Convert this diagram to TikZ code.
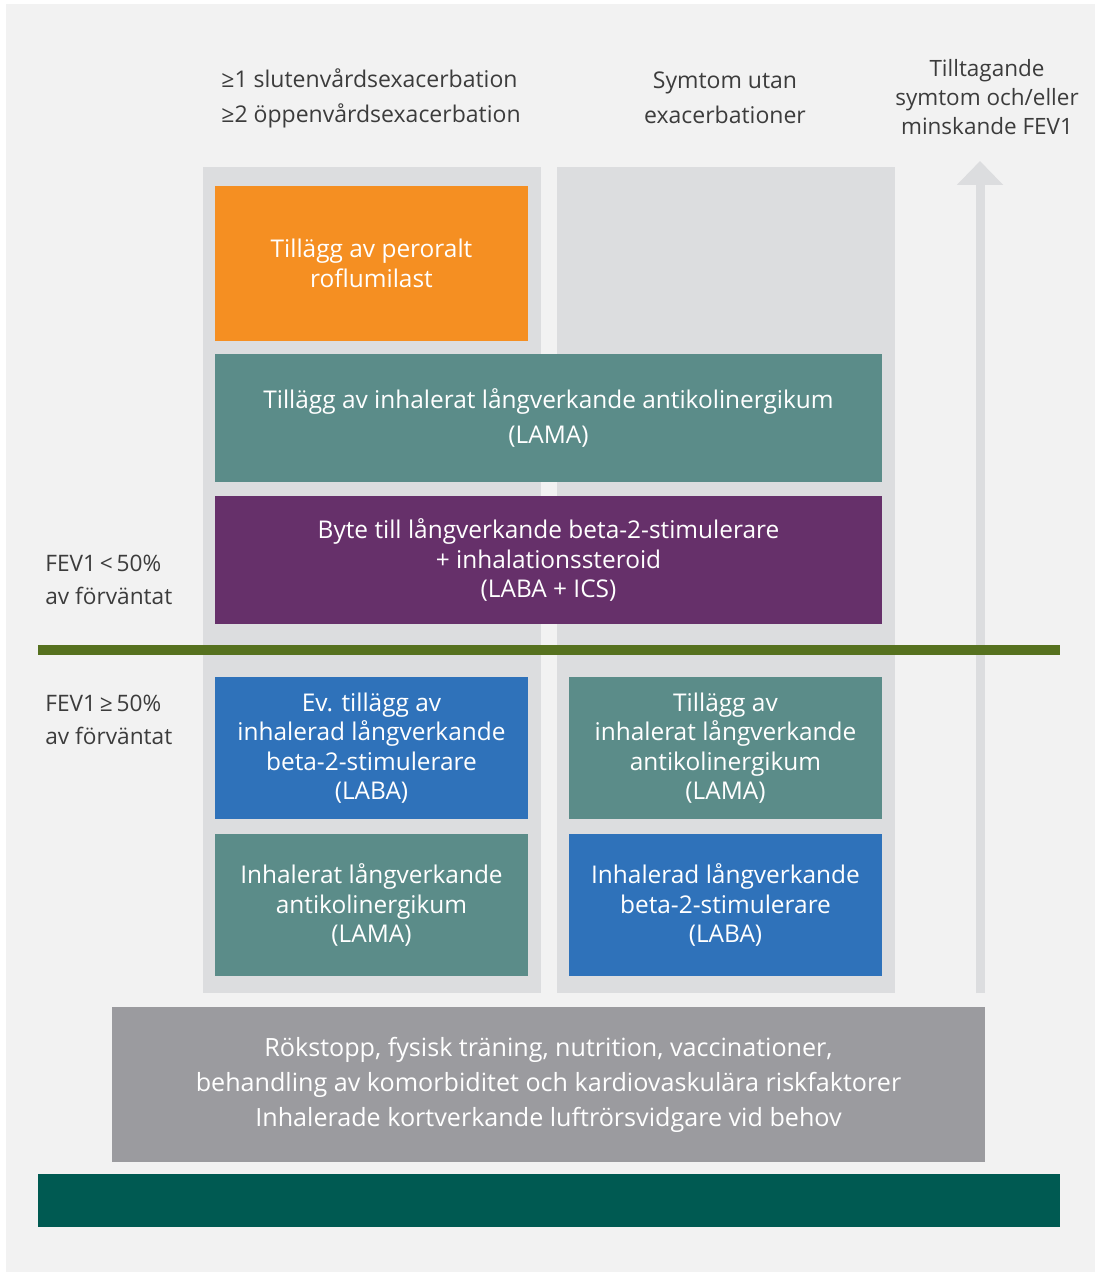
\documentclass[tikz,border=0pt]{standalone}
\usepackage{fontspec}
\setmainfont{Open Sans}
\usetikzlibrary{arrows.meta}
\definecolor{bggray}{HTML}{F2F2F2}
\definecolor{panelgray}{HTML}{DCDDDF}
\definecolor{roforange}{HTML}{F58F22}
\definecolor{lamateal}{HTML}{5B8C89}
\definecolor{icspurple}{HTML}{66306A}
\definecolor{lababLue}{HTML}{2F72BA}
\definecolor{basegray}{HTML}{9B9B9F}
\definecolor{fevgreen}{HTML}{56711F}
\definecolor{footgreen}{HTML}{005A52}
\definecolor{txtgray}{HTML}{3C3C3C}

\begin{document}
\begin{tikzpicture}[x=0.02cm,y=-0.02cm,
  box/.style={inner sep=0, align=center, text=white, font=\fontsize{13.9}{16.8}\selectfont},
  narrow/.style={box, minimum width=6.26cm, minimum height=2.84cm},
  wide/.style={box, minimum width=13.34cm, minimum height=2.56cm},
  head/.style={inner sep=0, text=txtgray, font=\fontsize{13.1}{19.9}\selectfont}]
% background and the two column panels
\fill[white] (0,0) rectangle (1097,1274);
\fill[bggray] (6,4) rectangle (1095,1272);
\fill[panelgray] (203,167) rectangle (541,993);
\fill[panelgray] (557,167) rectangle (895,993);
% arrow on the right
\coordinate (arrowbase) at (980,993);
\coordinate (arrowtip) at (980,161);
\draw[panelgray, line width=0.18cm, -{Triangle[width=0.9cm,length=0.48cm]}] (arrowbase) -- (arrowtip);
% FEV1 line and footer bar
\fill[fevgreen] (38,645) rectangle (1060,655);
\fill[footgreen] (38,1174) rectangle (1060,1227);
% column heads
\node[head, align=left] (exac) at (371,98) {≥1 slutenvårdsexacerbation\\≥2 öppenvårdsexacerbation};
\node[head, align=center] (symtom) at (725,98) {Symtom utan\\exacerbationer};
\node[head, align=center, font=\fontsize{12.8}{16.5}\selectfont] (tilltag) at (987,97) {Tilltagande\\symtom och/eller\\minskande FEV1};
\node[head, align=left, anchor=west, font=\fontsize{12.9}{18.8}\selectfont] (fevlow) at (45,580) {FEV1\,<\,50\%\\av förväntat};
\node[head, align=left, anchor=west, font=\fontsize{12.9}{18.8}\selectfont] (fevhigh) at (45,720) {FEV1\,≥\,50\%\\av förväntat};
% treatment boxes
\node[narrow, fill=roforange, minimum height=3.1cm] (roflumilast) at (371.5,263.5) {Tillägg av peroralt\\roflumilast};
\node[wide, fill=lamateal] (lamawide) at (548.5,418) {Tillägg av inhalerat långverkande antikolinergikum\\[0.1cm](LAMA)};
\node[wide, fill=icspurple] (labaics) at (548.5,560) {Byte till långverkande beta-2-stimulerare\\+ inhalationssteroid\\(LABA + ICS)};
\node[narrow, fill=lababLue] (evlaba) at (371.5,748) {Ev. tillägg av\\inhalerad långverkande\\beta-2-stimulerare\\(LABA)};
\node[narrow, fill=lamateal] (tillama) at (725.5,748) {Tillägg av\\inhalerat långverkande\\antikolinergikum\\(LAMA)};
\node[narrow, fill=lamateal] (lama) at (371.5,905) {Inhalerat långverkande\\antikolinergikum\\(LAMA)};
\node[narrow, fill=lababLue] (laba) at (725.5,905) {Inhalerad långverkande\\beta-2-stimulerare\\(LABA)};
% base treatment
\node[box, fill=basegray, minimum width=17.46cm, minimum height=3.1cm, font=\fontsize{14.3}{19.9}\selectfont] (basics) at (548.5,1084.5) {Rökstopp, fysisk träning, nutrition, vaccinationer,\\behandling av komorbiditet och kardiovaskulära riskfaktorer\\Inhalerade kortverkande luftrörsvidgare vid behov};
\end{tikzpicture}
\end{document}
